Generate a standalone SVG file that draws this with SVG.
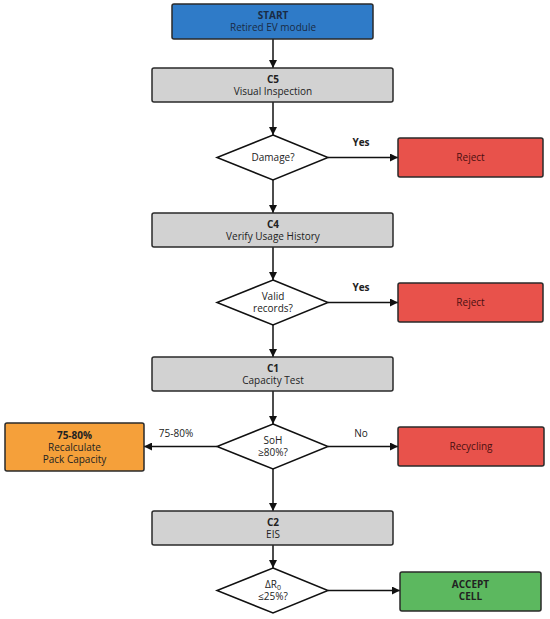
<svg xmlns="http://www.w3.org/2000/svg" width="550" height="619" viewBox="0 0 550 619">
<defs>
<marker id="ah" viewBox="0 0 10 10" refX="10" refY="5" markerWidth="8" markerHeight="8" markerUnits="userSpaceOnUse" orient="auto">
<path d="M0,0 L10,5 L0,10 z" fill="#111"/>
</marker>
<style>
text{font-family:"Open Sans","Noto Sans","DejaVu Sans",sans-serif;font-size:10px;text-anchor:middle;fill:#222}
.b{font-weight:bold}
.box{stroke:#2a2a2a;stroke-width:1.5}
.grey{fill:#d2d2d2}
.blue{fill:#2f7bc8}
.red{fill:#e8524b}
.orange{fill:#f5a03a}
.green{fill:#5cb85f}
.dia{fill:#fff;stroke:#111;stroke-width:1.5}
.c line{stroke:#111;stroke-width:1.5;marker-end:url(#ah)}
.lbl{font-size:10px}
.wt{fill:#1a2b45}
.rt{fill:#4a1010}
</style>
</defs>
<rect width="550" height="619" fill="#fff"/>
<g class="c" id="connectors">
<line x1="273" y1="39" x2="273" y2="68"/>
<line x1="273" y1="102" x2="273" y2="135"/>
<line x1="273" y1="180" x2="273" y2="213"/>
<line x1="273" y1="247" x2="273" y2="280"/>
<line x1="273" y1="325" x2="273" y2="357"/>
<line x1="273" y1="391" x2="273" y2="424"/>
<line x1="273" y1="469" x2="273" y2="511"/>
<line x1="273" y1="545" x2="273" y2="568"/>
<line x1="328" y1="157.5" x2="398" y2="157.5"/>
<line x1="328" y1="302.5" x2="398" y2="302.5"/>
<line x1="217" y1="446.5" x2="144" y2="446.5"/>
<line x1="328" y1="446.5" x2="398" y2="446.5"/>
<line x1="328" y1="590.5" x2="400" y2="590.5"/>
<text class="b" x="361" y="146">Yes</text>
<text class="b" x="361" y="291">Yes</text>
<text x="176" y="437">75-80%</text>
<text x="361" y="437">No</text>
</g>
<g id="start">
<rect class="box blue" x="172" y="4" width="201" height="35" rx="2"/>
<text class="b wt" x="273" y="19">START</text>
<text class="wt" x="273" y="31">Retired EV module</text>
</g>
<g id="c5">
<rect class="box grey" x="152" y="68" width="241" height="34" rx="2"/>
<text class="b" x="273" y="83">C5</text>
<text x="273" y="95">Visual Inspection</text>
</g>
<g id="damage">
<polygon class="dia" points="273,135 328,157.5 273,180 217,157.5"/>
<text x="273" y="161">Damage?</text>
</g>
<g id="reject1">
<rect class="box red" x="398" y="138" width="145" height="39" rx="2"/>
<text class="rt" x="470.5" y="161">Reject</text>
</g>
<g id="c4">
<rect class="box grey" x="152" y="213" width="241" height="34" rx="2"/>
<text class="b" x="273" y="228">C4</text>
<text x="273" y="240">Verify Usage History</text>
</g>
<g id="valid">
<polygon class="dia" points="273,280 328,302.5 273,325 217,302.5"/>
<text x="273" y="300">Valid</text>
<text x="273" y="312">records?</text>
</g>
<g id="reject2">
<rect class="box red" x="398" y="283" width="145" height="39" rx="2"/>
<text class="rt" x="470.5" y="306">Reject</text>
</g>
<g id="c1">
<rect class="box grey" x="152" y="357" width="241" height="34" rx="2"/>
<text class="b" x="273" y="372">C1</text>
<text x="273" y="384">Capacity Test</text>
</g>
<g id="soh">
<polygon class="dia" points="273,424 328,446.5 273,469 217,446.5"/>
<text x="273" y="444">SoH</text>
<text x="273" y="456">≥80%?</text>
</g>
<g id="recalc">
<rect class="box orange" x="5" y="423" width="139" height="48" rx="2"/>
<text class="b" x="74.5" y="439">75-80%</text>
<text x="74.5" y="451">Recalculate</text>
<text x="74.5" y="463">Pack Capacity</text>
</g>
<g id="recycling">
<rect class="box red" x="398" y="427" width="146" height="39" rx="2"/>
<text class="rt" x="471" y="450">Recycling</text>
</g>
<g id="c2">
<rect class="box grey" x="152" y="511" width="241" height="34" rx="2"/>
<text class="b" x="273" y="526">C2</text>
<text x="273" y="538">EIS</text>
</g>
<g id="dr">
<polygon class="dia" points="273,568 328,590.5 273,613 217,590.5"/>
<text x="273" y="588">ΔR<tspan font-size="7" dy="2">0</tspan></text>
<text x="273" y="600">≤25%?</text>
</g>
<g id="accept">
<rect class="box green" x="400" y="572" width="141" height="39" rx="2"/>
<text class="b" x="470.5" y="588">ACCEPT</text>
<text class="b" x="470.5" y="600">CELL</text>
</g>
</svg>
